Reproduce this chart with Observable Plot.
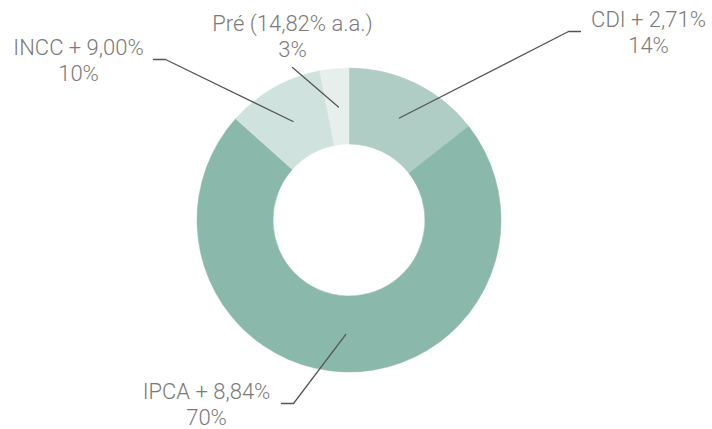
<!DOCTYPE html>
<html><head><meta charset="utf-8">
<script src="https://cdn.jsdelivr.net/npm/d3@7"></script>
<script src="https://cdn.jsdelivr.net/npm/@observablehq/plot@0.6"></script>
<style>body{margin:0;background:#fff}#chart svg{display:block}</style>
</head><body><div id="chart"></div>
<script>
// ---- data ----
const categories = ["CDI + 2,71%", "IPCA + 8,84%", "INCC + 9,00%", "Pré (14,82% a.a.)"];
const shares = [14, 70, 10, 3];
const shareLabels = ["14%", "70%", "10%", "3%"];

// ---- styles / layout (kept apart from the data) ----
const colors = ["#afcdc4", "#8ab8ab", "#d0e2dd", "#e6efec"];
const outerR = 152, innerR = 76, leaderR = 114;
// label leader layout, offsets from donut centre (chart units)
const elbowX = [219, -56, -184, -57];
const elbowY = [-189, 183, -161, -153];
const tailX = [231, -68, -196, -57];
const textX = [299, -143, -271, -57];
const textY = [-194, 178, -166, -190];
const lineGap = 26.5;

const rows = categories.map((c, i) => ({category: c, share: shares[i], label: shareLabels[i], color: colors[i]}));
const arcs = d3.pie().sort(null).value(d => d.share)(rows);

const leaders = [];
arcs.forEach((a, i) => {
  const m = (a.startAngle + a.endAngle) / 2;
  leaders.push({k: i, x: leaderR * Math.sin(m), y: -leaderR * Math.cos(m)});
  leaders.push({k: i, x: elbowX[i], y: elbowY[i]});
  leaders.push({k: i, x: tailX[i], y: elbowY[i]});
});
const labels = rows.map((r, i) => ({name: r.category, pct: r.label, x: textX[i], y: textY[i]}));

const donut = (index, scales) => {
  const sx = scales && scales.x ? scales.x : (v => v + 349);
  const sy = scales && scales.y ? scales.y : (v => v + 220);
  const k = Math.abs(sx(1) - sx(0));
  const g = d3.create("svg:g").attr("transform", `translate(${sx(0)},${sy(0)})`);
  const arc = d3.arc().innerRadius(innerR * k).outerRadius(outerR * k);
  g.selectAll("path").data(arcs).join("path")
    .attr("d", arc).attr("fill", d => d.data.color)
    .attr("stroke", d => d.data.color).attr("stroke-width", 0.5);
  return g.node();
};

const font = "Roboto, 'Liberation Sans', sans-serif";
const chart = Plot.plot({
  width: 712, height: 429,
  margin: 0,
  x: {domain: [-349, 363], range: [0, 712], axis: null},
  y: {domain: [-220, 209], range: [0, 429], axis: null},
  style: {fontFamily: font, background: "#fff"},
  marks: [
    donut,
    Plot.line(leaders, {x: "x", y: "y", z: "k", stroke: "#555", strokeWidth: 1.3, curve: "linear"}),
    Plot.text(labels, {x: "x", y: "y", text: "name", lineAnchor: "bottom", textAnchor: "middle",
      fill: "#7a7a7a", fontSize: 22, fontWeight: 300}),
    Plot.text(labels, {x: "x", y: d => d.y + lineGap, text: "pct", lineAnchor: "bottom", textAnchor: "middle",
      fill: "#7a7a7a", fontSize: 22, fontWeight: 300})
  ]
});
document.getElementById("chart").appendChild(chart);
</script>
</body></html>
